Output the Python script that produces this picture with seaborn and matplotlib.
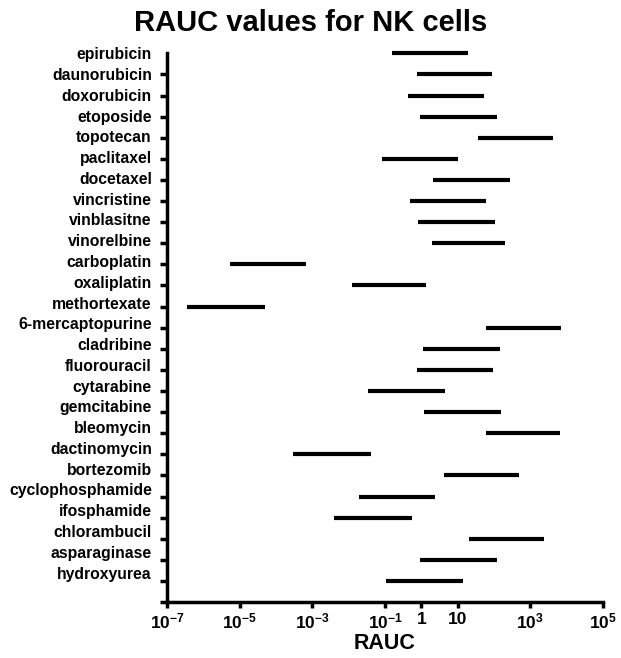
import numpy as np
import pandas as pd
import matplotlib
matplotlib.use("Agg")
import matplotlib.pyplot as plt
import seaborn as sns

# RAUC ranges (low, high) per drug
drugs = ["epirubicin", "daunorubicin", "doxorubicin", "etoposide", "topotecan",
         "paclitaxel", "docetaxel", "vincristine", "vinblasitne", "vinorelbine",
         "carboplatin", "oxaliplatin", "methortexate", "6-mercaptopurine",
         "cladribine", "fluorouracil", "cytarabine", "gemcitabine", "bleomycin",
         "dactinomycin", "bortezomib", "cyclophosphamide", "ifosphamide",
         "chlorambucil", "asparaginase", "hydroxyurea"]
rauc_low = [0.153, 0.75, 0.42, 0.92, 37, 0.085, 2.1, 0.49, 0.83, 1.93,
            5.4e-6, 0.0126, 3.5e-7, 59, 1.09, 0.76, 0.033, 1.19, 59,
            3.0e-4, 4.1, 0.019, 0.0039, 21, 0.92, 0.107]
rauc_high = [19.6, 90, 54, 119, 4130, 10.4, 270, 61, 105, 201,
             6.8e-4, 1.37, 5.0e-5, 7130, 150, 96, 4.6, 156, 6440,
             0.041, 479, 2.43, 0.565, 2430, 119, 14.3]

xticks = [1e-7, 1e-5, 1e-3, 1e-1, 1, 10, 1e3, 1e5]
xtick_labels = [r"$\mathbf{10^{-7}}$", r"$\mathbf{10^{-5}}$", r"$\mathbf{10^{-3}}$",
                r"$\mathbf{10^{-1}}$", "1", "10", r"$\mathbf{10^{3}}$", r"$\mathbf{10^{5}}$"]

sns.set_style("ticks")
plt.rcParams["font.family"] = ["Liberation Sans", "DejaVu Sans"]
plt.rcParams["font.weight"] = "bold"
plt.rcParams["text.color"] = "black"
plt.rcParams["xtick.color"] = "black"
plt.rcParams["ytick.color"] = "black"
plt.rcParams["axes.labelcolor"] = "black"
plt.rcParams["mathtext.fontset"] = "custom"
plt.rcParams["mathtext.rm"] = "Liberation Sans:bold"
plt.rcParams["mathtext.bf"] = "Liberation Sans:bold"

pos = np.arange(len(drugs))
df = pd.DataFrame({"drug": drugs * 2,
                   "pos": np.concatenate([pos, pos]),
                   "rauc": rauc_low + rauc_high})

fig = plt.figure(figsize=(6.21, 6.58), dpi=100)
ax = fig.add_axes([0.269, 0.085, 0.702, 0.834])

sns.lineplot(data=df, x="rauc", y="pos", units="drug", estimator=None,
             sort=False, color="black", lw=3, ax=ax, legend=False)
for ln in ax.lines:
    ln.set_solid_capstyle("butt")
    ln.set_clip_on(False)

ax.set_xscale("log")
ax.set_xlim(1e-7, 1e5)
ax.set_ylim(len(drugs), 0)
ax.set_xticks(xticks)
ax.set_xticklabels(xtick_labels, fontsize=12.5, fontweight="bold")
ax.xaxis.set_minor_locator(matplotlib.ticker.NullLocator())

# tick marks at each drug row, labels placed slightly above (as in the original)
ax.set_yticks(np.arange(len(drugs) + 1), minor=True)
ax.set_yticks(pos * 0.984)
ax.set_yticklabels(drugs, fontsize=11.3, fontweight="bold")
ax.tick_params(axis="y", which="major", length=0, pad=11)
ax.tick_params(axis="y", which="minor", length=5, width=2.5, color="black")
ax.tick_params(axis="x", which="major", length=4, width=2.5, color="black", pad=3)

ax.set_xlabel("RAUC", fontsize=15.5, fontweight="bold", labelpad=1)
ax.set_ylabel("")

for side in ["top", "right"]:
    ax.spines[side].set_visible(False)
for side in ["left", "bottom"]:
    ax.spines[side].set_linewidth(2.5)
    ax.spines[side].set_color("black")

fig.suptitle("RAUC values for NK cells", x=0.5, y=0.965, va="center",
             fontsize=21, fontweight="bold", color="black")

fig.savefig("out.png", dpi=100)
